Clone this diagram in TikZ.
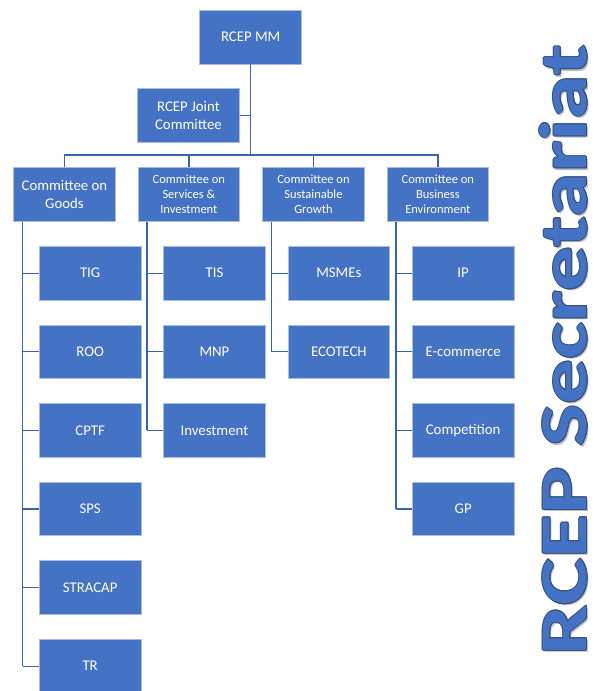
\documentclass[tikz,border=0pt]{standalone}
\usepackage{fontspec}
\setmainfont{Carlito}
\usepackage{graphicx}
\definecolor{boxblue}{HTML}{4472C4}
\definecolor{boxedge}{HTML}{A9BCE2}
\definecolor{linkblue}{HTML}{3A63AE}
\definecolor{outlineblue}{HTML}{34507F}
\newcommand\secrtext{\resizebox{610pt}{47pt}{\bfseries RCEP Secretariat}}
\begin{document}
\begin{tikzpicture}[x=1pt,y=-1pt,
  box/.style={draw=boxedge, line width=0.8pt, fill=boxblue, text=white, inner sep=0pt,
    align=center, anchor=north west, minimum width=101.5pt, minimum height=53.5pt,
    font=\fontsize{14.8}{17.8}\selectfont},
  smallbox/.style={box, font=\fontsize{12.5}{14.8}\selectfont},
  link/.style={draw=linkblue, line width=1.3pt}]
\useasboundingbox (0,0) rectangle (597,691);

% top
\node[box, minimum width=102pt] (mm) at (199.3,10) {RCEP MM};
\node[box] (joint) at (137.3,88.3) {RCEP Joint\\Committee};

% committees
\node[box] (goods) at (13.3,167.3) {Committee on\\Goods};
\node[smallbox] (serv) at (137.7,167.3) {Committee on\\Services \&\\Investment};
\node[smallbox] (sust) at (262.3,167.3) {Committee on\\Sustainable\\Growth};
\node[smallbox] (biz) at (386.7,167.3) {Committee on\\Business\\Environment};

% bus
\coordinate (busL) at (goods.north |- 0,155);
\coordinate (busM) at (mm.south |- busL);
\draw[link] (mm.south) -- (busM);
\draw[link] (joint.east) -- (joint.east -| mm.south);
\draw[link] (goods.north) -- (busL) -- (biz.north |- busL) -- (biz.north);
\draw[link] (serv.north) -- (serv.north |- busL);
\draw[link] (sust.north) -- (sust.north |- busL);

% children
\foreach \n/\t [count=\i from 0] in {tig/TIG,roo/ROO,cptf/CPTF,sps/SPS,stracap/STRACAP,tr/TR}
  \node[box] (\n) at (39,{246+78.6*\i}) {\t};
\foreach \n/\t [count=\i from 0] in {tis/TIS,mnp/MNP,inv/Investment}
  \node[box] (\n) at (163.3,{246+78.6*\i}) {\t};
\foreach \n/\t [count=\i from 0] in {msme/MSMEs,ecotech/ECOTECH}
  \node[box] (\n) at (287.7,{246+78.6*\i}) {\t};
\foreach \n/\t [count=\i from 0] in {ip/IP,ecom/E-commerce,comp/Competition,gp/GP}
  \node[box] (\n) at (412,{246+78.6*\i}) {\t};

% child connectors
\coordinate (gv) at ([xshift=9.4pt]goods.south west);
\coordinate (sv) at ([xshift=9.4pt]serv.south west);
\coordinate (uv) at ([xshift=9.4pt]sust.south west);
\coordinate (bv) at ([xshift=9.4pt]biz.south west);
\draw[link] (gv) -- (gv |- tr.west);
\draw[link] (sv) -- (sv |- inv.west);
\draw[link] (uv) -- (uv |- ecotech.west);
\draw[link] (bv) -- (bv |- gp.west);
\foreach \n in {tig,roo,cptf,sps,stracap,tr} \draw[link] (\n.west -| gv) -- (\n.west);
\foreach \n in {tis,mnp,inv} \draw[link] (\n.west -| sv) -- (\n.west);
\foreach \n in {msme,ecotech} \draw[link] (\n.west -| uv) -- (\n.west);
\foreach \n in {ip,ecom,comp,gp} \draw[link] (\n.west -| bv) -- (\n.west);

% RCEP Secretariat
\coordinate (sc) at (563.5,350);
\node[rotate=90, inner sep=0pt, text=black, opacity=0.25] at ([shift={(2.2,2.2)}]sc) {\secrtext};
\foreach \dx/\dy in {1/0,-1/0,0/1,0/-1,0.7/0.7,-0.7/0.7,0.7/-0.7,-0.7/-0.7}
  \node[rotate=90, inner sep=0pt, text=outlineblue] at ([shift={(\dx,\dy)}]sc) {\secrtext};
\node[rotate=90, inner sep=0pt, text=boxblue] (secr) at (sc) {\secrtext};
\end{tikzpicture}
\end{document}
